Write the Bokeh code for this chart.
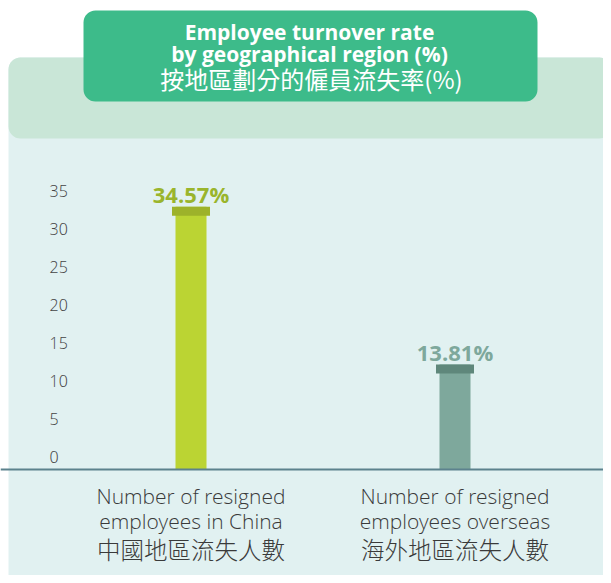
from bokeh.plotting import figure
from bokeh.models import Range1d, BoxAnnotation, Span
from bokeh.core.properties import value
from bokeh.embed import file_html
from bokeh.resources import INLINE

# ---------------- data ----------------
cat_line1 = ["Number of resigned", "Number of resigned"]
cat_line2 = ["employees in China", "employees overseas"]
cat_zh = ["中國地區流失人數", "海外地區流失人數"]
turnover = [34.57, 13.81]
value_labels = ["34.57%", "13.81%"]
tick_values = [0, 5, 10, 15, 20, 25, 30, 35]
tick_labels = ["0", "5", "10", "15", "20", "25", "30", "35"]
title_en = ["Employee turnover rate", "by geographical region (%)"]
title_zh = "按地區劃分的僱員流失率(%)"

bar_colors = ["#BBD433", "#7EA89C"]
cap_colors = ["#9DB22A", "#5F877B"]
label_colors = ["#9AB52C", "#7EA89C"]

LIGHT_LATIN = value("'Open Sans Light', 'Open Sans'")
LIGHT_CJK = value("'Noto Sans CJK TC Light', 'Noto Sans CJK TC'")

# ---------------- geometry helpers (figure px -> data) ----------------
W, H = 603, 575
X0, DX = 190.5, 264.0   # px centre of first category, px between categories
Y0, DY = 469.0, 7.6     # px of value 0, px per unit


def px_x(x):
    return (x - X0) / DX


def px_y(y):
    return (Y0 - y) / DY


idx = list(range(len(turnover)))

p = figure(width=W, height=H, output_backend="svg", toolbar_location=None,
           x_range=Range1d(px_x(0), px_x(W)), y_range=Range1d(px_y(H), px_y(0)),
           x_axis_type=None, y_axis_type=None, min_border=0, tools="")
p.outline_line_color = None
p.background_fill_color = "white"
p.border_fill_color = "white"

# panels
p.add_layout(BoxAnnotation(left=px_x(8), right=px_x(611), top=px_y(57), bottom=px_y(620),
                           fill_color="#E1F1F1", fill_alpha=1, line_color=None,
                           border_radius=12, level="underlay"))
p.add_layout(BoxAnnotation(left=px_x(8), right=px_x(611), top=px_y(57), bottom=px_y(138),
                           fill_color="#C9E6D7", fill_alpha=1, line_color=None,
                           border_radius=12, level="underlay"))
p.add_layout(BoxAnnotation(left=px_x(83), right=px_x(537), top=px_y(10), bottom=px_y(101),
                           fill_color="#3DBB8A", fill_alpha=1, line_color=None,
                           border_radius=12, level="underlay"))

# baseline
p.add_layout(Span(location=0, dimension="width", line_color="#5C828D", line_width=2))

# bars
p.vbar(x=idx, top=turnover, bottom=0, width=31 / DX, fill_color=bar_colors, line_color=None)
p.rect(x=idx, y=[v - 4.5 / DY for v in turnover], width=38, width_units="screen",
       height=9, height_units="screen", fill_color=cap_colors, line_color=None)

# value labels
p.text(x=idx, y=turnover, text=value_labels, y_offset=-13, text_align="center",
       text_baseline="middle", text_font=value("Open Sans"), text_font_style="bold",
       text_font_size="22px", text_color=label_colors)

# tick labels
p.text(x=[px_x(49)] * len(tick_values), y=tick_values, text=tick_labels, y_offset=-13,
       text_align="left", text_baseline="middle", text_font=LIGHT_LATIN,
       text_font_size="16px", text_color="#444444")

# category labels
p.text(x=idx, y=[px_y(495)] * 2, text=cat_line1, text_align="center", text_baseline="middle",
       text_font=LIGHT_LATIN, text_font_size="21px", text_color="#3A3A3A")
p.text(x=idx, y=[px_y(520)] * 2, text=cat_line2, text_align="center", text_baseline="middle",
       text_font=LIGHT_LATIN, text_font_size="21px", text_color="#3A3A3A")
p.text(x=idx, y=[px_y(548)] * 2, text=cat_zh, text_align="center", text_baseline="middle",
       text_font=LIGHT_CJK, text_font_size="23.5px", text_color="#3A3A3A")

# title
p.text(x=[px_x(309)] * 2, y=[px_y(31), px_y(53)], text=title_en, text_align="center",
       text_baseline="middle", text_font=value("Open Sans"), text_font_style="bold",
       text_font_size="21px", text_color="white")
p.text(x=[px_x(311)], y=[px_y(78)], text=[title_zh], text_align="center",
       text_baseline="middle", text_font=value("Noto Sans CJK TC"),
       text_font_size="24px", text_color="white")

open("out.html", "w").write(file_html(p, INLINE))
